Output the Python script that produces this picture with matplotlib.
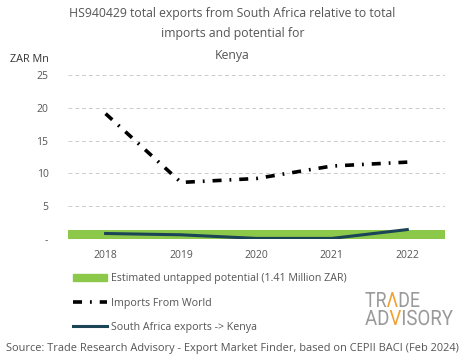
import matplotlib.pyplot as plt
import matplotlib.patches as mpatches
import matplotlib.lines as mlines
from matplotlib.font_manager import FontProperties
from matplotlib.textpath import TextPath, text_to_path
from matplotlib.transforms import Affine2D, IdentityTransform
import numpy as np

years = ["2018", "2019", "2020", "2021", "2022"]
imports_world = [19.1, 8.6, 9.2, 11.1, 11.7]
sa_exports = [0.8, 0.6, 0.05, 0.05, 1.4]
potential = [1.41, 1.41, 1.41, 1.41, 1.41]

grey = "#555555"
green = "#8cc94b"
navy = "#1b4457"
orange = "#f0a030"
logo_grey = "#9a9a9a"
dashdot = (0, (2.5, 2.2, 0.5, 2.2))

plt.rcParams["font.family"] = ["Open Sans", "DejaVu Sans"]

fig = plt.figure(figsize=(4.65, 3.59), dpi=100)
ax = fig.add_axes([0.146, 0.335, 0.811, 0.456])

x = np.arange(len(years))
ax.bar(x, potential, width=1.0, color=green, zorder=2)
ax.plot(x, imports_world, color="black", lw=2.6, linestyle=dashdot, zorder=3)
ax.plot(x, sa_exports, color=navy, lw=2.2, zorder=4)

ax.set_xlim(-0.5, 4.5)
ax.set_ylim(0, 25)
ax.set_yticks([0, 5, 10, 15, 20, 25])
ax.set_yticklabels(["-", "5", "10", "15", "20", "25"])
ax.set_xticks(x)
ax.set_xticklabels(years)
ax.tick_params(length=0, labelsize=7.5, colors=grey, pad=8)
ax.tick_params(axis="y", pad=14)
ax.grid(axis="y", color="#cccccc", linestyle=(0, (4, 3)), lw=0.7, zorder=0)
for s in ax.spines.values():
    s.set_visible(False)

fig.text(0.5, 0.963, "HS940429 total exports from South Africa relative to total",
         ha="center", va="center", fontsize=8.8, color=grey)
fig.text(0.5, 0.908, "imports and potential for",
         ha="center", va="center", fontsize=8.8, color=grey)
fig.text(0.5, 0.845, "Kenya", ha="center", va="center", fontsize=8.8, color=grey)
fig.text(0.022, 0.833, "ZAR Mn", ha="left", va="center", fontsize=7.8, color="#333333")

handles = [
    mpatches.Patch(color=green, label="Estimated untapped potential (1.41 Million ZAR)"),
    mlines.Line2D([], [], color="black", lw=2.6, linestyle=dashdot,
                  label="Imports From World"),
    mlines.Line2D([], [], color=navy, lw=2.2, label="South Africa exports -> Kenya"),
]
leg = fig.legend(handles=handles, loc="upper left", bbox_to_anchor=(0.148, 0.251),
                 frameon=False, fontsize=7.7, labelspacing=1.25, handlelength=3.2,
                 handletextpad=0.35, borderaxespad=0)
for t in leg.get_texts():
    t.set_color(grey)

# logo: narrow letters drawn as paths, squeezed to fit the box in pixels
logo_font = FontProperties(family=["Roboto", "DejaVu Sans"], weight="normal", size=10)


def logo_row(parts, x0, baseline, width, cap_h):
    advances = [text_to_path.get_text_width_height_descent(t, logo_font, ismath=False)[0]
                for t, _ in parts]
    sy = cap_h / (0.711 * 10)
    sx = width / sum(advances)
    xpos = x0
    for (txt, col), adv in zip(parts, advances):
        path = TextPath((0, 0), txt, prop=logo_font)
        tr = Affine2D().scale(sx, sy).translate(xpos, baseline) + IdentityTransform()
        fig.add_artist(mpatches.PathPatch(path, transform=tr, color=col, lw=0))
        xpos += adv * sx


logo_row([("TR", logo_grey), ("\u039b", orange), ("DE", logo_grey)], 365, 52, 55, 15)
logo_row([("AD", logo_grey), ("V", orange), ("ISORY", logo_grey)], 365, 34, 88, 15)

fig.text(0.5, 0.03, "Source: Trade Research Advisory - Export Market Finder, based on CEPII BACI (Feb 2024)",
         ha="center", va="center", fontsize=7.9, color=grey)

fig.savefig("out.png", dpi=100)
